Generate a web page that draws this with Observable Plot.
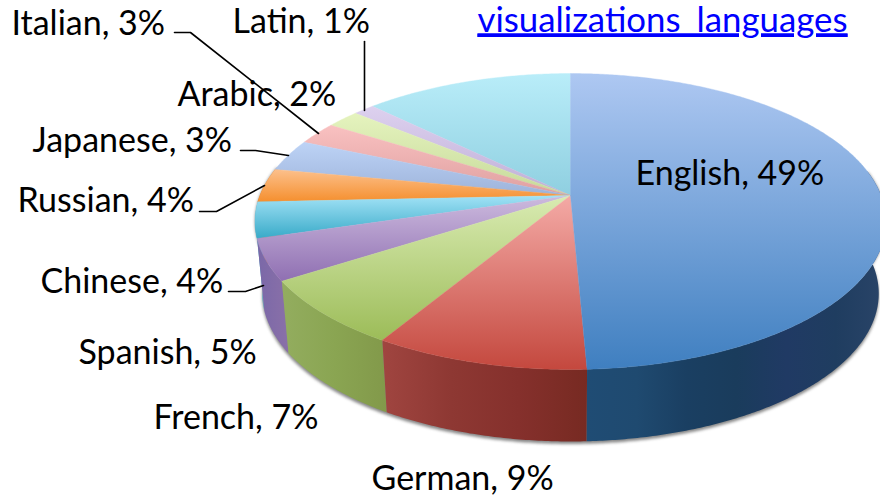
<!DOCTYPE html>
<html><head><meta charset="utf-8">
<script src="https://cdn.jsdelivr.net/npm/d3@7"></script>
<script src="https://cdn.jsdelivr.net/npm/@observablehq/plot@0.6"></script>
<style>
html,body{margin:0;padding:0;background:#fff;overflow:hidden}
svg{display:block}
.link,.link text{text-decoration:underline;text-decoration-thickness:2px}
</style></head><body><div id="chart"></div>
<script>
const categories = ["English","German","French","Spanish","Chinese","Russian","Japanese","Italian","Arabic","Latin","Other"];
const shares = [49.3,9.3,7.3,4.5,3.9,3.7,3.5,2.5,2.0,1.3,12.7];
const topLight = ["#aec8f2","#f4aaa6","#d9ebb2","#cdbbde","#a2e2f6","#fcc08c","#bdd3f6","#f9c1c1","#e5f3be","#ddd1ef","#b9edf9"];
const topDark  = ["#3f7fc0","#c4483e","#9cbc58","#8f6fb2","#38aac8","#f58f2e","#9db3da","#dfa0a0","#c6da9a","#bfafd7","#8fcfe0"];
const wallStops = [
  ["#1f4c74","#1f4a70","#1a3f62","#1a3c5c","#203a64","#1f3d60","#2a4468"],
  ["#a04540","#8e3833","#85302c","#772a22"],
  ["#93ad5f","#8aa552","#82994a"],
  ["#7a68a8","#8a70a8"],
  ["#4aa8c0","#4aa8c0"],
  ["#c97a2a","#c97a2a"],["#8a9cc0","#8a9cc0"],["#c08888","#c08888"],["#aabc80","#aabc80"],["#a090b8","#a090b8"],["#78b4c4","#78b4c4"]
];
const labelTexts = ["Italian, 3%","Latin, 1%","Arabic, 2%","Japanese, 3%","Russian, 4%","Chinese, 4%","Spanish, 5%","French, 7%","German, 9%","English, 49%"];
const labelLeft  = [11,232,177,32,17,40,78,153,371,635];
const labelBase  = [34,32,105,151,211,292,363,428,489,184];
const leaders = [
  [[174,32],[190,32],[318,133]],
  [[364,41],[364,110]],
  [[240,150],[255,150],[288,155]],
  [[199,211],[216,211],[264,185]],
  [[228,291],[245,291],[263,285]]
];
const linkText = "visualizations_languages";

// perspective disc
const k=.1757,a=143.4,b=310.6,cx=570,cy=195,depth=72,shrink=.977;
const rim=t=>{const r=t*Math.PI/180,u=Math.sin(r),v=-Math.cos(r),d=1-k*v;return [cx+b*u/d,cy+a*v/d];};
const low=p=>[cx+(p[0]-cx)*shrink,p[1]+depth];
const arc=(t0,t1)=>{const o=d3.range(t0,t1,.5).map(rim);o.push(rim(t1));return o;};
const ends=d3.cumsum(shares).map(s=>s*3.6);
const starts=[0,...ends.slice(0,-1)];
const tops=categories.map((c,i)=>{const r=arc(starts[i],ends[i]);return [[cx,cy],...r,[cx,cy]];});
const walls=categories.map((c,i)=>{
  const t0=Math.max(starts[i],80),t1=Math.min(ends[i],282);
  if(t1<=t0) return [];
  const r=arc(t0,t1);
  return [...r,...r.slice().reverse().map(low),r[0]];
});
const whole=arc(80,282);
const shadowPts=[...whole,...whole.slice().reverse().map(low).map(p=>[p[0],p[1]+2.5]),whole[0]];

function defs(){
  const g=d3.create("svg:defs");
  categories.forEach((c,i)=>{
    const t=g.append("linearGradient").attr("id","t"+i).attr("x1",0).attr("x2",0).attr("y1",0).attr("y2",1);
    t.append("stop").attr("offset",0).attr("stop-color",topLight[i]);
    t.append("stop").attr("offset",1).attr("stop-color",topDark[i]);
    const w=g.append("linearGradient").attr("id","w"+i).attr("x1",0).attr("x2",1).attr("y1",0).attr("y2",0);
    wallStops[i].forEach((s,j,A)=>w.append("stop").attr("offset",j/(A.length-1)).attr("stop-color",s));
  });
  return g.node();
}
const X=d=>d[0],Y=d=>d[1];
const order=categories.map((c,i)=>i).reverse();
const chart=Plot.plot({
  width:880,height:498,margin:0,
  x:{domain:[0,880],range:[0,880],axis:null},
  y:{domain:[0,498],range:[0,498],axis:null},
  style:{background:"#fff",overflow:"hidden"},
  marks:[
    defs,
    Plot.line(shadowPts,{x:X,y:Y,fill:"#555",stroke:"none",fillOpacity:.7,imageFilter:"blur(1.5px)"}),
    ...order.filter(i=>walls[i].length).map(i=>Plot.line(walls[i],{x:X,y:Y,fill:`url(#w${i})`,stroke:"none"})),
    ...order.map(i=>Plot.line(tops[i],{x:X,y:Y,fill:`url(#t${i})`,stroke:`url(#t${i})`,strokeWidth:.4})),
    ...leaders.map(l=>Plot.line(l,{x:X,y:Y,stroke:"#000",strokeWidth:1.6,curve:"linear"})),
    Plot.text(labelTexts,{x:(d,i)=>labelLeft[i],y:(d,i)=>labelBase[i],text:d=>d,textAnchor:"start",lineAnchor:"bottom",fontSize:34,fontFamily:"Lato",fill:"#000"}),
    Plot.text([linkText],{x:477,y:31,text:d=>d,textAnchor:"start",lineAnchor:"bottom",fontSize:34.8,fontFamily:"Lato",fill:"#0000ff",className:"link"})
  ]
});
document.getElementById("chart").appendChild(chart);
</script></body></html>
